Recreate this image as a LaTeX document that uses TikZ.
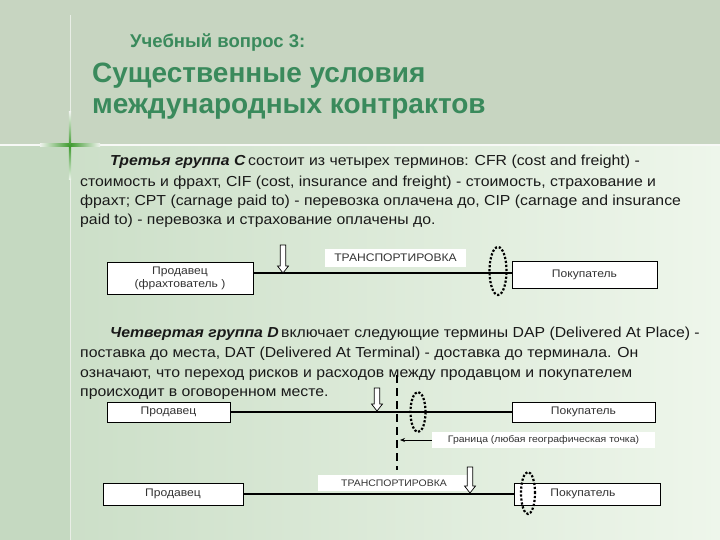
\documentclass[tikz,border=0pt]{standalone}
\usepackage{fontspec}
\setmainfont{Liberation Sans}
\newfontfamily\bodyfont[FakeStretch=1.09]{Liberation Sans}
\newfontfamily\labelfont[FakeStretch=1.1]{Liberation Sans}
\usetikzlibrary{shapes.geometric,arrows.meta}
\definecolor{topbg}{HTML}{C7D5C1}
\definecolor{leftbg}{HTML}{C5D9C1}
\definecolor{midbg}{HTML}{CCDFC8}
\definecolor{rightbg}{HTML}{EEF6EB}
\definecolor{titlegreen}{HTML}{3A8A5C}
\definecolor{sparkle}{HTML}{3E9A2E}
\definecolor{labelgray}{HTML}{333333}
\newcommand{\hollowarrow}[3]{%
  \draw[line width=0.7pt, fill=white] (#1-2.8,#2) -- (#1+2.8,#2) -- (#1+2.8,#3-7) -- (#1+5.5,#3-7) -- (#1,#3) -- (#1-5.5,#3-7) -- (#1-2.8,#3-7) -- cycle;}
\begin{document}
\begin{tikzpicture}[x=1pt,y=-1pt,
  bodytext/.style={anchor=base west, inner sep=0, text=black!90, font=\bodyfont\fontsize{14.5}{17}\selectfont},
  partybox/.style={draw=black, fill=white, line width=0.7pt, inner sep=0, align=center, text=labelgray, font=\labelfont\fontsize{11}{13}\selectfont},
  tag/.style={fill=white, inner sep=0, text=labelgray},
  dotring/.style={ellipse, draw=black, line width=2.2pt, dash pattern=on 2.2pt off 1.8pt, inner sep=0},
  flow/.style={line width=2.4pt}
]
\useasboundingbox (0,0) rectangle (720,540);
% background
\fill[topbg] (0,0) rectangle (720,145);
\fill[leftbg] (0,145) rectangle (70,540);
\shade[left color=midbg, right color=rightbg] (70,145) rectangle (720,540);
\draw[white!60!topbg, line width=1pt] (70,15) -- (70,540);
\draw[white!85!topbg, line width=1.6pt] (0,145) -- (720,145);
\shade[left color=white!70!topbg, right color=white!70!topbg, middle color=sparkle] (40,144) rectangle (100,146.5);
\shade[top color=white!70!topbg, bottom color=white!70!midbg, middle color=sparkle] (68.8,112) rectangle (71.2,180);

% titles
\node[anchor=base west, inner sep=0, text=titlegreen, font=\fontsize{18.5}{20}\selectfont\bfseries] (q) at (130,48) {Учебный вопрос 3:};
\node[anchor=base west, inner sep=0, text=titlegreen, font=\fontsize{28}{30}\selectfont\bfseries] (t1) at (92,83) {Существенные условия};
\node[anchor=base west, inner sep=0, text=titlegreen, font=\fontsize{28}{30}\selectfont\bfseries] (t2) at (92,114) {международных контрактов};

% group C text
\node[bodytext] (c1) at (110,166) {\textbf{\textit{Третья группа С}}\,состоит из четырех терминов: CFR (cost and freight) -};
\node[bodytext] (c2) at (80,187) {стоимость и фрахт, CIF (cost, insurance and freight) - стоимость, страхование и};
\node[bodytext] (c3) at (80,206) {фрахт; CPT (carnage paid to) - перевозка оплачена до, CIP (carnage and insurance};
\node[bodytext] (c4) at (80,225) {paid to) - перевозка и страхование оплачены до.};

% diagram 1
\node[partybox, minimum width=146, minimum height=32] (s1) at (180,278) {Продавец\\(фрахтователь )};
\node[partybox, minimum width=145, minimum height=27] (b1) at (584.5,274.5) {Покупатель};
\draw[flow] (s1.east |- 0,273) -- (b1.west |- 0,273);
\node[tag, minimum width=141, minimum height=18, font=\labelfont\fontsize{11}{12}\selectfont] (tr1) at (395.5,258) {ТРАНСПОРТИРОВКА};
\node[dotring, minimum width=17, minimum height=48] (e1) at (498,271) {};
\hollowarrow{283}{245}{273}

% group D text
\node[bodytext] (d1) at (110,337) {\textbf{\textit{Четвертая группа D}}\,включает следующие термины DAP (Delivered At Place) -};
\node[bodytext] (d2) at (80,357) {поставка до места, DAT (Delivered At Terminal) - доставка до терминала. Он};
\node[bodytext] (d3) at (80,377) {означают, что переход рисков и расходов между продавцом и покупателем};
\node[bodytext] (d4) at (80,396) {происходит в оговоренном месте.};

% diagram 2
\node[partybox, minimum width=123, minimum height=20] (s2) at (168.5,412) {Продавец};
\node[partybox, minimum width=143, minimum height=20] (b2) at (583.5,412) {Покупатель};
\draw[flow] (s2.east) -- (b2.west);
\coordinate (bt) at (397,375);
\coordinate (bb) at (397,470);
\draw[line width=2pt, dash pattern=on 8pt off 5pt] (bt) -- (bb);
\node[dotring, minimum width=15, minimum height=40] (e2) at (418,412) {};
\hollowarrow{377}{388}{411}
\node[tag, minimum width=223, minimum height=16, font=\labelfont\fontsize{9.5}{11}\selectfont] (gr) at (543.5,440) {Граница (любая географическая точка)};
\coordinate (gtip) at (400,440);
\draw[line width=0.8pt, -{Stealth[length=5pt,width=4pt]}] (gr.west) -- (gtip);

% diagram 3
\node[tag, minimum width=152, minimum height=16, font=\labelfont\fontsize{9.5}{11}\selectfont] (tr3) at (394,483) {ТРАНСПОРТИРОВКА};
\node[partybox, minimum width=140, minimum height=22] (s3) at (173,494) {Продавец};
\node[partybox, minimum width=146, minimum height=22, text width=140, align=center] (b3) at (587,494) {\hspace*{-8pt}Покупатель};
\draw[flow] (s3.east) -- (b3.west);
\node[dotring, minimum width=14, minimum height=42] (e3) at (528,493) {};
\hollowarrow{470}{467}{493}
\end{tikzpicture}
\end{document}
